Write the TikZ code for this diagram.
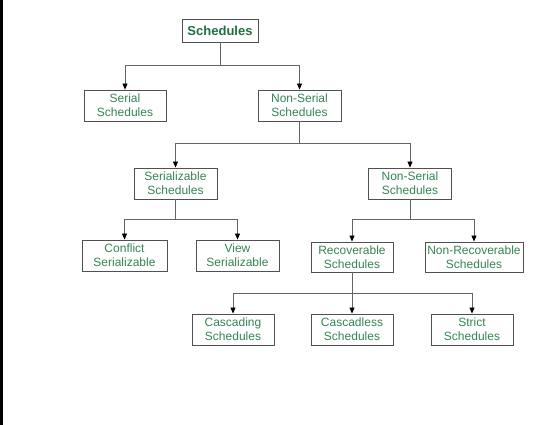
\documentclass[tikz,border=0pt]{standalone}
\usepackage{fontspec}
\setmainfont{Liberation Sans}
\usetikzlibrary{arrows.meta}
\definecolor{gtext}{RGB}{52,132,82}
\definecolor{gtitle}{RGB}{32,112,64}
\definecolor{boxline}{RGB}{80,80,80}
\definecolor{conn}{RGB}{100,100,100}
\tikzset{
  box/.style={draw=boxline, line width=0.85pt, rectangle, inner sep=0pt,
    minimum width=82pt, minimum height=31pt, align=center, text=gtext,
    font=\fontsize{12}{14}\selectfont},
  titlebox/.style={box, minimum width=76pt, minimum height=23pt, text=gtitle,
    font=\fontsize{13}{15}\selectfont\bfseries},
  arr/.style={draw=conn, line width=0.8pt, -{Stealth[length=6pt,width=5pt,inset=0pt,fill=black,color=black]}}
}
\begin{document}
\begin{tikzpicture}[x=1pt,y=-1pt]
\useasboundingbox (0,0) rectangle (558,425);
\fill[black] (0,0) rectangle (2.5,425);
\node[titlebox] (sched) at (220,30.5) {Schedules};
\node[box] (serial) at (125,105.5) {Serial\\Schedules};
\node[box, minimum width=83pt] (nonserial) at (299.5,105.5) {Non-Serial\\Schedules};
\node[box, minimum width=83pt] (serializable) at (175.5,183.5) {Serializable\\Schedules};
\node[box, minimum width=83pt] (nonserial2) at (410,183.5) {Non-Serial\\Schedules};
\node[box, minimum width=85pt] (conflict) at (124.5,255.5) {Conflict\\Serializable};
\node[box, minimum width=83pt] (view) at (237.5,255.5) {View\\Serializable};
\node[box, minimum height=30pt] (recov) at (352,257) {Recoverable\\Schedules};
\node[box, minimum width=98pt, minimum height=30pt] (nonrecov) at (474,257) {Non-Recoverable\\Schedules};
\node[box] (cascading) at (233,329.5) {Cascading\\Schedules};
\node[box] (cascadless) at (352,329.5) {Cascadless\\Schedules};
\node[box] (strict) at (472,329.5) {Strict\\Schedules};
\draw[arr] (sched.south) -- ++(0,23) -| (serial.north);
\draw[arr] (sched.south) -- ++(0,23) -| (nonserial.north);
\draw[arr] (nonserial.south) -- ++(0,22) -| (serializable.north);
\draw[arr] (nonserial.south) -- ++(0,22) -| (nonserial2.north);
\draw[arr] (serializable.south) -- ++(0,20) -| (conflict.north);
\draw[arr] (serializable.south) -- ++(0,20) -| (view.north);
\draw[arr] (nonserial2.south) -- ++(0,20) -| (recov.north);
\draw[arr] (nonserial2.south) -- ++(0,20) -| (nonrecov.north);
\draw[arr] (recov.south) -- ++(0,21) -| (cascading.north);
\draw[arr] (recov.south) -- (cascadless.north);
\draw[arr] (recov.south) -- ++(0,21) -| (strict.north);
\end{tikzpicture}
\end{document}
